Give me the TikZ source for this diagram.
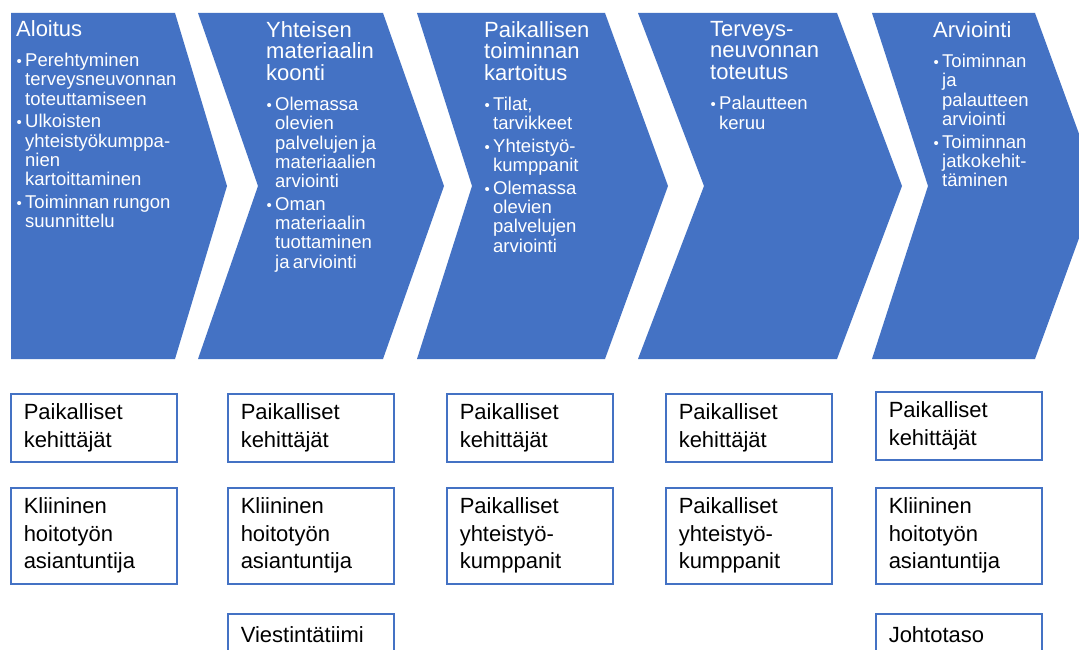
\documentclass[tikz,border=0pt]{standalone}
\usepackage{fontspec}
\setmainfont{Liberation Sans}

\definecolor{stageblue}{RGB}{68,114,196}

\newcommand{\headfont}{\fontsize{22}{21.5}\selectfont}
\newcommand{\itemfont}{\fontsize{18.5}{19.3}\selectfont}
\newcommand{\stagehead}[1]{{\headfont #1\par}\vspace{11.2pt}}
\newcommand{\stageitem}[1]{{\itemfont\let\\\newline
  \hangindent=9pt\hangafter=1\noindent
  \hbox to 9pt{\hspace{0.5pt}{\fontsize{15}{15}\selectfont\textbullet}\hss}#1\par}\vspace{3.2pt}}

\begin{document}
\begin{tikzpicture}[x=1pt,y=-1pt,
    stagetext/.style={anchor=north west, inner sep=0pt, text width=200pt,
      align=left, text=white},
    role/.style={draw=stageblue, line width=1.5pt, anchor=north west,
      inner xsep=13pt, inner ysep=0pt, text width=140pt, align=left,
      font=\fontsize{22}{27.5}\selectfont}]

  \useasboundingbox (0,0) rectangle (1079,650);
  \clip (0,0) rectangle (1079,650);
  \fill[white] (0,0) rectangle (1079,650);

  % Chevrons: left edge / notch / right edge / tip
  \foreach \xl/\xn/\xr/\xt in {11/11/175/227, 198/258/383/444,
      417/472/605/668, 638/704/837/902, 872/928/1035/1098}
    \fill[stageblue] (\xl,13) -- (\xr,13) -- (\xt,186) -- (\xr,359)
      -- (\xl,359) -- (\xn,186) -- cycle;

  % Phase texts
  \node[stagetext] (aloitus) at (16,20) {\stagehead{Aloitus}%
    \stageitem{Perehtyminen\\terveysneuvonnan\\toteuttamiseen}%
    \stageitem{Ulkoisten\\yhteistyökumppa-\\nien\\kartoittaminen}%
    \stageitem{Toiminnan rungon\\suunnittelu}};
  \node[stagetext] (koonti) at (266,21) {\stagehead{Yhteisen\\materiaalin\\koonti}%
    \stageitem{Olemassa\\olevien\\palvelujen ja\\materiaalien\\arviointi}%
    \stageitem{Oman\\materiaalin\\tuottaminen\\ja arviointi}};
  \node[stagetext] (kartoitus) at (484,21) {\stagehead{Paikallisen\\toiminnan\\kartoitus}%
    \stageitem{Tilat,\\tarvikkeet}%
    \stageitem{Yhteistyö-\\kumppanit}%
    \stageitem{Olemassa\\olevien\\palvelujen\\arviointi}};
  \node[stagetext] (toteutus) at (710,21) {\stagehead{Terveys-\\neuvonnan\\toteutus}%
    \stageitem{Palautteen\\keruu}};
  \node[stagetext] (arviointi) at (933,21) {\stagehead{Arviointi}%
    \stageitem{Toiminnan\\ja\\palautteen\\arviointi}%
    \stageitem{Toiminnan\\jatkokehit-\\täminen}};

  % Participants of each phase
  \node[role, minimum height=68pt] (kehit1) at (10,393) {Paikalliset\\kehittäjät};
  \node[role, minimum height=96pt] (asiant1) at (10,487) {Kliininen\\hoitotyön\\asiantuntija};

  \node[role, minimum height=68pt] (kehit2) at (227,393) {Paikalliset\\kehittäjät};
  \node[role, minimum height=96pt] (asiant2) at (227,487) {Kliininen\\hoitotyön\\asiantuntija};
  \node[role, minimum height=41pt] (viestinta) at (227,613) {Viestintätiimi};

  \node[role, minimum height=68pt] (kehit3) at (446,393) {Paikalliset\\kehittäjät};
  \node[role, minimum height=96pt] (kump3) at (446,487) {Paikalliset\\yhteistyö-\\kumppanit};

  \node[role, minimum height=68pt] (kehit4) at (665,393) {Paikalliset\\kehittäjät};
  \node[role, minimum height=96pt] (kump4) at (665,487) {Paikalliset\\yhteistyö-\\kumppanit};

  \node[role, minimum height=68pt] (kehit5) at (875,391) {Paikalliset\\kehittäjät};
  \node[role, minimum height=96pt] (asiant5) at (875,487) {Kliininen\\hoitotyön\\asiantuntija};
  \node[role, minimum height=41pt] (johto) at (875,613) {Johtotaso};
\end{tikzpicture}
\end{document}
